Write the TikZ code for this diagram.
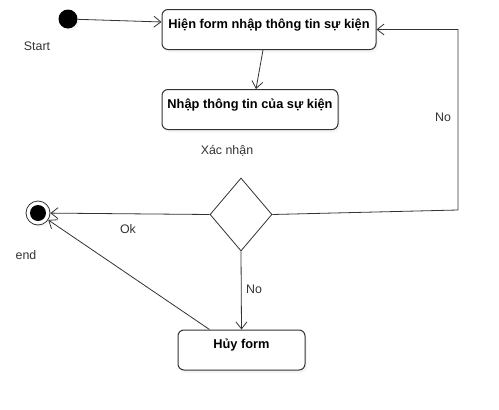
\documentclass[tikz,border=0pt]{standalone}
\usepackage{fontspec}
\setmainfont{Liberation Sans}
\usetikzlibrary{arrows.meta, shapes.geometric, shadows}
\definecolor{linegray}{HTML}{333333}
\definecolor{textgray}{HTML}{333333}
\tikzset{
  statebox/.style={draw=linegray, line width=1pt, rounded corners=6pt, fill=white,
    font=\fontsize{12.8pt}{15pt}\selectfont\bfseries, minimum height=40pt,
    text height=15.5pt, text depth=18.5pt, inner ysep=3pt, inner xsep=0pt,
    drop shadow={shadow xshift=2pt, shadow yshift=-3pt, fill=black!8}},
  flow/.style={draw=linegray, line width=0.8pt, -{Straight Barb[length=7pt,width=11pt]}},
  lbl/.style={text=textgray},
}
\begin{document}
\begin{tikzpicture}[x=1pt, y=-1pt, font=\fontsize{12.4pt}{14pt}\selectfont]
\useasboundingbox (0,0) rectangle (499,410);
\node[circle, fill=black, minimum size=19pt, inner sep=0pt, drop shadow={shadow xshift=2pt, shadow yshift=-2pt, fill=black!8}] (start) at (68,19) {};
\node[statebox, minimum width=214pt] (showform) at (269,29.5) {Hiện form nhập thông tin sự kiện};
\node[statebox, minimum width=176pt] (enterinfo) at (250,109.5) {Nhập thông tin của sự kiện};
\node[diamond, draw=linegray, line width=0.8pt, fill=white, minimum width=62pt, minimum height=73pt, inner sep=0pt] (confirm) at (241,214.5) {};
\node[statebox, minimum width=127pt] (cancel) at (241.5,350) {Hủy form};
\node[circle, draw=linegray, line width=0.8pt, fill=white, minimum size=24pt, inner sep=0pt, drop shadow={shadow xshift=2pt, shadow yshift=-2pt, fill=black!8}] (stop) at (38,213) {};
\node[circle, fill=black, minimum size=16pt, inner sep=0pt] (stopdot) at (stop) {};
\coordinate (noturn) at (458,210);
\draw[flow] (start) -- (showform.176);
\draw[flow] ([xshift=-6pt]showform.south) -- ([xshift=6pt]enterinfo.north);
\draw[flow] (confirm.east) -- (noturn) |- (showform.east);
\draw[flow] (confirm.west) -- (stop);
\draw[flow] (confirm.south) -- (cancel.north);
\draw[flow] ([xshift=-32pt]cancel.north) -- (stop);
\node[lbl] (startlbl) at (37,46) {Start};
\node[lbl] (endlbl) at (26,255) {end};
\node[lbl] (confirmlbl) at (227,151) {Xác nhận};
\node[lbl] (retrylbl) at (443,117) {No};
\node[lbl] (oklbl) at (128,229) {Ok};
\node[lbl] (nolbl) at (254,289) {No};
\end{tikzpicture}
\end{document}
